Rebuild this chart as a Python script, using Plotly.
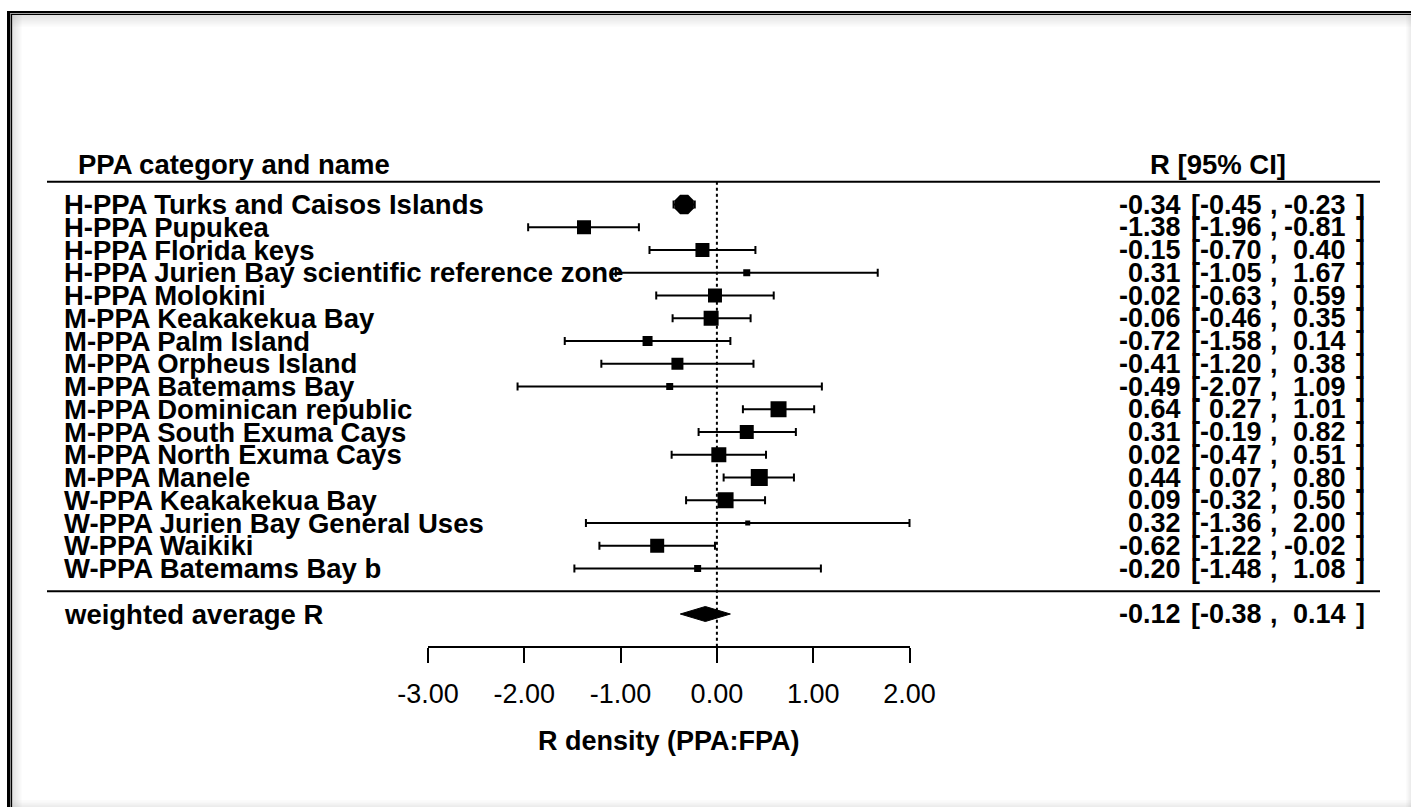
import plotly.graph_objects as go

# ---------------- data ----------------
labels = [
    "H-PPA Turks and Caisos Islands",
    "H-PPA Pupukea",
    "H-PPA Florida keys",
    "H-PPA Jurien Bay scientific reference zone",
    "H-PPA Molokini",
    "M-PPA Keakakekua Bay",
    "M-PPA Palm Island",
    "M-PPA Orpheus Island",
    "M-PPA Batemams Bay",
    "M-PPA Dominican republic",
    "M-PPA South Exuma Cays",
    "M-PPA North Exuma Cays",
    "M-PPA Manele",
    "W-PPA Keakakekua Bay",
    "W-PPA Jurien Bay General Uses",
    "W-PPA Waikiki",
    "W-PPA Batemams Bay b",
]
est   = [-0.34, -1.38, -0.15, 0.31, -0.02, -0.06, -0.72, -0.41, -0.49, 0.64, 0.31, 0.02, 0.44, 0.09, 0.32, -0.62, -0.20]
lower = [-0.45, -1.96, -0.70, -1.05, -0.63, -0.46, -1.58, -1.20, -2.07, 0.27, -0.19, -0.47, 0.07, -0.32, -1.36, -1.22, -1.48]
upper = [-0.23, -0.81, 0.40, 1.67, 0.59, 0.35, 0.14, 0.38, 1.09, 1.01, 0.82, 0.51, 0.80, 0.50, 2.00, -0.02, 1.08]
weight_px = [21, 14, 14, 7, 14, 15, 10, 12, 7, 16, 14, 15, 17, 16, 5, 14, 7]  # marker sizes (study weights)

summary_label = "weighted average R"
summary_est, summary_lo, summary_hi = -0.12, -0.38, 0.14

tick_vals = [-3, -2, -1, 0, 1, 2]
tick_text = ["-3.00", "-2.00", "-1.00", "0.00", "1.00", "2.00"]
x_title = "R density (PPA:FPA)"
left_header = "PPA category and name"
right_header = "R [95% CI]"

# ---------------- geometry ----------------
W, H = 1411, 807
row_px0, row_step = 204.5, 22.75          # pixel centre of row 1 and row spacing
px_x_m3, px_x_p2 = 428.0, 909.5           # pixel positions of -3 and +2
scale = (px_x_p2 - px_x_m3) / 5.0
px_zero = px_x_m3 + 3 * scale
axis_px = 647.0

rows = list(range(1, len(labels) + 1))
summary_row = len(labels) + 2
line_top_row, line_mid_row = 0, len(labels) + 1
header_row = -0.75
axis_row = 1 + (axis_px - row_px0) / row_step

y_top = 1 - row_px0 / row_step
y_bot = 1 + (H - row_px0) / row_step
x_left = -px_zero / scale
x_right = (W - px_zero) / scale

def px(x):
    return x / W

def py(y):
    return 1 - y / H

FONT = "Liberation Sans, Arial, sans-serif"
BLACK = "#000000"

fig = go.Figure()

# zero reference line (on the visible axis)
fig.add_trace(go.Scatter(
    x=[0, 0], y=[line_top_row, axis_row], xaxis="x2", yaxis="y",
    mode="lines", line=dict(color=BLACK, width=2, dash="3px,3px"),
    hoverinfo="skip", showlegend=False))

# studies
symbols = ["octagon"] + ["square"] * (len(labels) - 1)
fig.add_trace(go.Scatter(
    x=est, y=rows, mode="markers",
    marker=dict(symbol=symbols, size=weight_px, color=BLACK, opacity=1, line=dict(width=0)),
    error_x=dict(type="data", symmetric=False,
                 array=[u - e for u, e in zip(upper, est)],
                 arrayminus=[e - l for e, l in zip(est, lower)],
                 color=BLACK, thickness=2, width=4),
    showlegend=False, cliponaxis=False))

# summary diamond
h = 7.5 / row_step
fig.add_trace(go.Scatter(
    x=[summary_lo, summary_est, summary_hi, summary_est, summary_lo],
    y=[summary_row, summary_row - h, summary_row, summary_row + h, summary_row],
    mode="lines", fill="toself", fillcolor=BLACK, line=dict(color=BLACK, width=1),
    showlegend=False, hoverinfo="skip"))

# horizontal separator lines
for r in (line_top_row, line_mid_row):
    fig.add_shape(type="line", xref="paper", yref="y", x0=px(47), x1=px(1380), y0=r, y1=r,
                  line=dict(color=BLACK, width=2))

ann = []
def t(x, y, text, anchor, size=27, bold=True):
    ann.append(dict(x=px(x), y=y, xref="paper", yref="y", text=f"<b>{text}</b>" if bold else text,
                    xanchor=anchor, yanchor="middle", showarrow=False,
                    font=dict(family=FONT, size=size, color=BLACK)))

t(76, header_row, left_header, "left", size=27.5)
t(1218, header_row, right_header, "center", size=27.5)

def fmt(v):
    return f"{v:.2f}"

def ci_row(r, e, lo, hi):
    t(1183, r, fmt(e), "right")
    t(1189, r, "[", "left")
    t(1264, r, fmt(lo), "right")
    t(1268, r, ",", "left")
    t(1348, r, fmt(hi), "right")
    t(1354, r, "]", "left")

for r, lab, e, lo, hi in zip(rows, labels, est, lower, upper):
    t(62, r, lab, "left", size=27.5)
    ci_row(r, e, lo, hi)

t(62, summary_row, summary_label, "left", size=27.5)
ci_row(summary_row, summary_est, summary_lo, summary_hi)

# window frame (double border + soft shadow)
frame = []
def rect(x0, y0, x1, y1, color, opacity=1.0):
    frame.append(dict(type="rect", xref="paper", yref="paper",
                      x0=px(x0), x1=px(x1), y0=py(y0), y1=py(y1),
                      fillcolor=color, opacity=opacity, line=dict(width=0), layer="above"))
for i in range(8):
    op = 0.22 * (1 - i / 8)
    rect(12.5, 15 + 1.5 * i, W, 16.5 + 1.5 * i, "#808080", op)
    rect(12.5 + 1.2 * i, 15, 13.7 + 1.2 * i, H, "#808080", op)
for i in range(5):
    op = 0.15 * (i + 1) / 5
    rect(W - 5 + i, 15, W - 4 + i, H, "#808080", op)
    rect(12.5, H - 7 + 1.4 * i, W, H - 5.6 + 1.4 * i, "#808080", op)
rect(7, 11, W, 13.3, BLACK)
rect(7, 13.3, W, 14.1, "#9a9a9a")
rect(10.6, 14.1, W, 15.1, BLACK)
rect(7, 11, 10, H, BLACK)
rect(10, 13.3, 10.8, H, "#9a9a9a")
rect(10.8, 14.1, 12.2, H, BLACK)
for s in frame:
    fig.add_shape(**s)

fig.update_layout(
    width=W, height=H, margin=dict(l=0, r=0, t=0, b=0, pad=0, autoexpand=False),
    paper_bgcolor="white", plot_bgcolor="rgba(0,0,0,0)",
    annotations=ann, showlegend=False,
    xaxis=dict(domain=[0, 1], range=[x_left, x_right], visible=False, fixedrange=True),
    yaxis=dict(domain=[0, 1], range=[y_bot, y_top], visible=False, fixedrange=True),
    xaxis2=dict(domain=[px(px_x_m3), px(px_x_p2)], range=[-3, 2], anchor="free", position=py(axis_px),
                showline=True, linecolor=BLACK, linewidth=2, showgrid=False, zeroline=False,
                ticks="outside", ticklen=15, tickwidth=2, tickcolor=BLACK,
                tickvals=tick_vals, ticktext=tick_text, ticklabelstandoff=8,
                tickfont=dict(family=FONT, size=27, color=BLACK),
                title=dict(text=f"<b>{x_title}</b>", font=dict(family=FONT, size=27, color=BLACK), standoff=22),
                automargin=False, fixedrange=True),
)

fig.write_html("out.html")
